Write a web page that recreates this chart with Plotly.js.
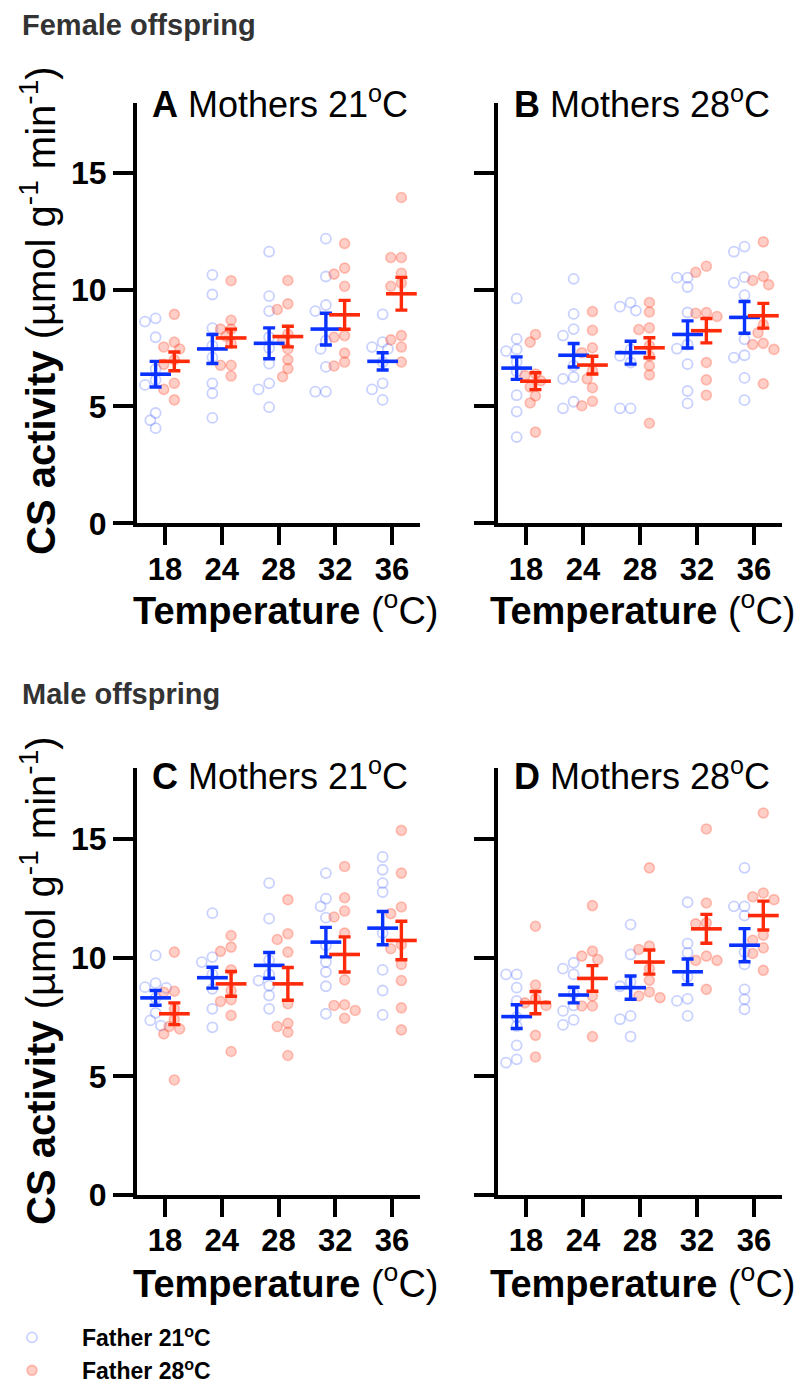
<!DOCTYPE html>
<html>
<head>
<meta charset="utf-8">
<script src="https://cdn.plot.ly/plotly-3.0.1.min.js"></script>
<style>html,body{margin:0;padding:0;background:#fff;}#chart{width:806px;height:1387px;}</style>
</head>
<body>
<div id="chart"></div>
<script>
// ---------- DATA ----------
const categories = ['18', '24', '28', '32', '36'];
const seriesNames = ['Father 21<sup>o</sup>C', 'Father 28<sup>o</sup>C'];

// Panel A: Female offspring, Mothers 21°C
const A_father21 = [
  [8.77, 8.63, 7.96, 6.6, 6.13, 5.92, 4.72, 4.41, 4.07],
  [10.63, 9.79, 8.35, 7.6, 7.1, 5.99, 5.56, 4.51],
  [11.62, 9.72, 9.08, 7.96, 7.5, 6.83, 5.99, 5.73, 4.97],
  [12.18, 10.56, 9.34, 9.08, 7.82, 7.46, 6.69, 5.63, 5.63],
  [8.94, 7.75, 7.54, 7.46, 6.9, 5.99, 5.73, 5.28]
];
const A_father28 = [
  [8.94, 7.75, 7.54, 7.46, 7.0, 6.8, 5.99, 5.73, 5.28],
  [10.38, 8.69, 8.31, 8.31, 8.0, 7.7, 6.76, 6.76, 6.30],
  [10.39, 9.39, 9.15, 8.1, 7.8, 7.46, 7.0, 6.62, 6.27],
  [11.97, 10.92, 10.66, 10.14, 8.03, 7.96, 7.28, 6.90, 6.73],
  [13.94, 11.37, 11.37, 10.70, 10.28, 10.14, 7.85, 8.03, 7.54, 6.90]
];
const A_mean21 = [6.38, 7.46, 7.70, 8.31, 6.93];
const A_sem21  = [0.55, 0.62, 0.66, 0.68, 0.37];
const A_mean28 = [6.93, 7.93, 7.99, 8.92, 9.82];
const A_sem28  = [0.40, 0.38, 0.44, 0.62, 0.70];

// Panel B: Female offspring, Mothers 28°C
const B_father21 = [
  [9.62, 7.89, 7.44, 7.37, 6.9, 6.5, 5.48, 4.78, 3.69],
  [10.46, 8.96, 8.31, 8.03, 6.74, 6.25, 6.18, 5.20, 4.92],
  [9.44, 9.27, 9.10, 7.44, 7.16, 6.88, 4.92, 4.92],
  [10.51, 10.51, 10.11, 9.02, 7.65, 7.47, 6.81, 5.66, 5.13],
  [11.62, 11.84, 10.53, 10.29, 9.76, 7.87, 7.09, 7.19, 6.22, 5.27]
];
const B_father28 = [
  [8.08, 7.75, 6.39, 6.32, 6.1, 5.83, 5.45, 5.15, 3.90],
  [9.06, 8.26, 7.51, 7.30, 6.53, 6.18, 5.80, 5.22, 5.03],
  [9.45, 9.04, 8.29, 8.36, 7.6, 7.16, 6.74, 6.35, 4.28],
  [11.0, 10.74, 8.99, 9.02, 8.85, 6.88, 6.14, 5.48],
  [12.04, 10.56, 10.39, 10.21, 8.50, 8.15, 7.70, 7.65, 7.44, 5.97]
];
const B_mean21 = [6.64, 7.19, 7.30, 8.08, 8.81];
const B_sem21  = [0.48, 0.50, 0.49, 0.58, 0.68];
const B_mean28 = [6.08, 6.77, 7.51, 8.24, 8.88];
const B_sem28  = [0.36, 0.38, 0.43, 0.52, 0.53];

// Panel C: Male offspring, Mothers 21°C
const C_father21 = [
  [10.10, 8.93, 8.73, 8.76, 8.3, 7.68, 7.14, 7.36],
  [11.88, 10.03, 9.82, 9.3, 8.69, 7.85, 7.07],
  [13.15, 11.65, 9.9, 9.3, 9.04, 8.83, 8.41, 7.85],
  [13.57, 12.49, 12.17, 11.69, 10.52, 9.82, 9.40, 8.80, 7.64],
  [14.25, 13.71, 13.15, 12.77, 11.04, 9.49, 8.62, 7.59]
];
const C_father28 = [
  [10.24, 8.55, 8.59, 7.85, 7.4, 7.10, 7.00, 6.79, 4.85],
  [10.94, 10.45, 10.27, 9.49, 8.62, 8.23, 8.16, 7.57, 6.05],
  [12.45, 11.01, 10.77, 10.24, 8.06, 7.10, 7.24, 6.86, 5.88],
  [13.85, 12.53, 11.97, 11.72, 11.04, 9.07, 8.02, 7.99, 7.78, 7.45],
  [15.37, 13.57, 12.14, 11.86, 10.38, 10.56, 9.72, 9.04, 7.89, 6.96]
];
const C_mean21 = [8.31, 9.16, 9.68, 10.66, 11.25];
const C_sem21  = [0.31, 0.44, 0.54, 0.62, 0.70];
const C_mean28 = [7.64, 8.90, 8.90, 10.14, 10.73];
const C_sem28  = [0.46, 0.52, 0.69, 0.74, 0.81];

// Panel D: Male offspring, Mothers 28°C
const D_father21 = [
  [9.30, 9.30, 8.74, 8.18, 7.5, 7.12, 6.31, 5.72, 5.58],
  [9.54, 9.79, 9.30, 8.5, 7.99, 7.76, 7.38, 7.17],
  [11.40, 10.14, 8.98, 8.8, 7.55, 7.41, 6.68],
  [12.34, 10.60, 10.21, 9.2, 8.27, 8.18, 7.55],
  [13.79, 12.17, 12.17, 11.78, 10.24, 9.72, 8.67, 8.25, 7.83]
];
const D_father28 = [
  [11.33, 8.85, 8.27, 8.1, 7.99, 6.73, 5.82],
  [12.20, 10.28, 10.07, 9.93, 8.39, 7.97, 7.97, 6.68],
  [13.79, 10.35, 10.49, 9.54, 9.05, 8.56, 8.32, 8.39],
  [15.43, 12.31, 11.43, 11.47, 10.07, 9.89, 9.89, 8.67],
  [16.10, 12.73, 12.45, 12.57, 10.95, 10.74, 10.42, 10.18, 9.47]
];
const D_mean21 = [7.52, 8.43, 8.74, 9.41, 10.53];
const D_sem21  = [0.50, 0.33, 0.49, 0.54, 0.70];
const D_mean28 = [8.11, 9.13, 9.82, 11.22, 11.78];
const D_sem28  = [0.47, 0.54, 0.51, 0.61, 0.61];

// ---------- STYLE / LAYOUT ----------
const W = 806, H = 1387;
const FONT = 'Liberation Sans, Arial, Helvetica, sans-serif';
const BLUE = '#0a32ff', RED = '#ff2a0a';
const BLUE_PT = 'rgba(60,90,255,0.28)';
const RED_PT_FILL = 'rgba(255,80,50,0.28)';
const RED_PT_LINE = 'rgba(255,70,40,0.30)';
const GROUP_OFF = 0.165;
const PX_PER_X = 56.8, PX_PER_Y = 23.5;

function px2fx(p) { return p / W; }
function py2fy(p) { return 1 - p / H; }

// simple beeswarm to spread overlapping points horizontally (pixel based)
function swarm(vals, cx) {
  const placed = [];
  const xs = new Array(vals.length);
  const order = vals.map((v, i) => i).sort((a, b) => vals[b] - vals[a]);
  const step = 5.3, minD = 8.5;
  const cands = [0, -1, 1, -2, 2, -3, 3, -4, 4];
  for (const i of order) {
    const py = vals[i] * PX_PER_Y;
    let off = 0;
    for (const c of cands) {
      off = c * step;
      if (placed.every(p => Math.hypot(p.x - off, p.y - py) >= minD)) break;
    }
    placed.push({ x: off, y: py });
    xs[i] = cx + off / PX_PER_X;
  }
  return xs;
}

const panels = [
  { n: '',  f21: A_father21, f28: A_father28, m21: A_mean21, s21: A_sem21, m28: A_mean28, s28: A_sem28,
    xd: [137, 420], yd: [102.6, 523.3], labels: true },
  { n: '2', f21: B_father21, f28: B_father28, m21: B_mean21, s21: B_sem21, m28: B_mean28, s28: B_sem28,
    xd: [498, 782], yd: [102.6, 523.3], labels: false },
  { n: '3', f21: C_father21, f28: C_father28, m21: C_mean21, s21: C_sem21, m28: C_mean28, s28: C_sem28,
    xd: [137, 420], yd: [768, 1195], labels: true },
  { n: '4', f21: D_father21, f28: D_father28, m21: D_mean21, s21: D_sem21, m28: D_mean28, s28: D_sem28,
    xd: [498, 782], yd: [768, 1195], labels: false }
];

const traces = [];
const layout = {
  width: W, height: H,
  margin: { l: 0, r: 0, t: 0, b: 0, pad: 0, autoexpand: false },
  paper_bgcolor: '#fff', plot_bgcolor: '#fff',
  font: { family: FONT, color: '#000' },
  showlegend: true,
  legend: {
    x: px2fx(-18), xanchor: 'left', y: py2fy(1316), yanchor: 'top',
    font: { family: FONT, size: 23, weight: 'bold', color: '#000' },
    itemwidth: 90, tracegroupgap: 0, bgcolor: 'rgba(0,0,0,0)'
  },
  annotations: []
};

panels.forEach((p, pi) => {
  const xa = 'x' + p.n, ya = 'y' + p.n;
  // individual points
  const groups = [
    { data: p.f21, off: -GROUP_OFF, name: seriesNames[0],
      marker: { symbol: 'circle-open', size: 10, color: BLUE_PT, line: { width: 1.8, color: BLUE_PT } } },
    { data: p.f28, off: GROUP_OFF, name: seriesNames[1],
      marker: { symbol: 'circle', size: 10, color: RED_PT_FILL, line: { width: 1.6, color: RED_PT_LINE } } }
  ];
  groups.forEach(g => {
    const xs = [], ys = [];
    g.data.forEach((vals, ci) => {
      const sx = swarm(vals, ci + g.off);
      vals.forEach((v, k) => { xs.push(sx[k]); ys.push(v); });
    });
    traces.push({
      type: 'scatter', mode: 'markers', x: xs, y: ys, xaxis: xa, yaxis: ya,
      name: g.name, showlegend: pi === 0, legendgroup: g.name, marker: g.marker,
      hoverinfo: 'skip', cliponaxis: false
    });
  });
  // means with SEM
  [[p.m21, p.s21, -GROUP_OFF, BLUE], [p.m28, p.s28, GROUP_OFF, RED]].forEach(([m, s, off, col]) => {
    traces.push({
      type: 'scatter', mode: 'markers', xaxis: xa, yaxis: ya, showlegend: false,
      x: categories.map((c, i) => i + off), y: m,
      marker: { symbol: 'line-ew', size: 22, color: col, line: { color: col, width: 3.6 } },
      error_y: { type: 'data', array: s, visible: true, color: col, thickness: 3.4, width: 6 },
      hoverinfo: 'skip', cliponaxis: false
    });
  });

  layout['xaxis' + p.n] = {
    domain: [px2fx(p.xd[0]), px2fx(p.xd[1])], anchor: ya,
    range: [-0.493, 4.493], tickmode: 'array', tickvals: categories.map((c, i) => i), ticktext: categories,
    showline: true, linewidth: 4, linecolor: '#000', ticks: 'outside', ticklen: 18, tickwidth: 4, tickcolor: '#000',
    showgrid: false, zeroline: false, fixedrange: true, automargin: false, ticklabelstandoff: -3,
    tickfont: { family: FONT, size: 31, weight: 'bold', color: '#000' }
  };
  layout['yaxis' + p.n] = {
    domain: [py2fy(p.yd[1]), py2fy(p.yd[0])], anchor: xa,
    range: [0, 18], tickmode: 'array', tickvals: [0, 5, 10, 15],
    showline: true, linewidth: 4, linecolor: '#000', ticks: 'outside', ticklen: 20, tickwidth: 4, tickcolor: '#000',
    showgrid: false, zeroline: false, fixedrange: true, showticklabels: p.labels, automargin: false,
    tickfont: { family: FONT, size: 32, weight: 'bold', color: '#000' }
  };
});

// text annotations
function ann(text, x, y, opts) {
  layout.annotations.push(Object.assign({
    text: text, x: px2fx(x), y: py2fy(y), xref: 'paper', yref: 'paper',
    showarrow: false, xanchor: 'left', yanchor: 'middle',
    font: { family: FONT, size: 36, color: '#000' }
  }, opts || {}));
}
ann('<b>Female offspring</b>', 20, 25, { font: { family: FONT, size: 29, color: '#333' } });
ann('<b>Male offspring</b>', 20, 694, { font: { family: FONT, size: 29, color: '#333' } });

ann('<b>A</b> Mothers 21<sup>o</sup>C', 150, 102);
ann('<b>B</b> Mothers 28<sup>o</sup>C', 512, 102);
ann('<b>C</b> Mothers 21<sup>o</sup>C', 150, 774);
ann('<b>D</b> Mothers 28<sup>o</sup>C', 512, 774);

const xTitle = '<b>Temperature</b> (<sup>o</sup>C)';
ann(xTitle, 286, 608, { xanchor: 'center', font: { family: FONT, size: 38, color: '#000' } });
ann(xTitle, 643, 608, { xanchor: 'center', font: { family: FONT, size: 38, color: '#000' } });
ann(xTitle, 286, 1281, { xanchor: 'center', font: { family: FONT, size: 38, color: '#000' } });
ann(xTitle, 643, 1281, { xanchor: 'center', font: { family: FONT, size: 38, color: '#000' } });

const yTitle = '<b>CS activity</b> (µmol g<sup>-1</sup> min<sup>-1</sup>)';
ann(yTitle, 38, 311, { xanchor: 'center', textangle: -90, font: { family: FONT, size: 40, color: '#000' } });
ann(yTitle, 38, 981, { xanchor: 'center', textangle: -90, font: { family: FONT, size: 40, color: '#000' } });

Plotly.newPlot('chart', traces, layout, { displayModeBar: false, staticPlot: true });
</script>
</body>
</html>
